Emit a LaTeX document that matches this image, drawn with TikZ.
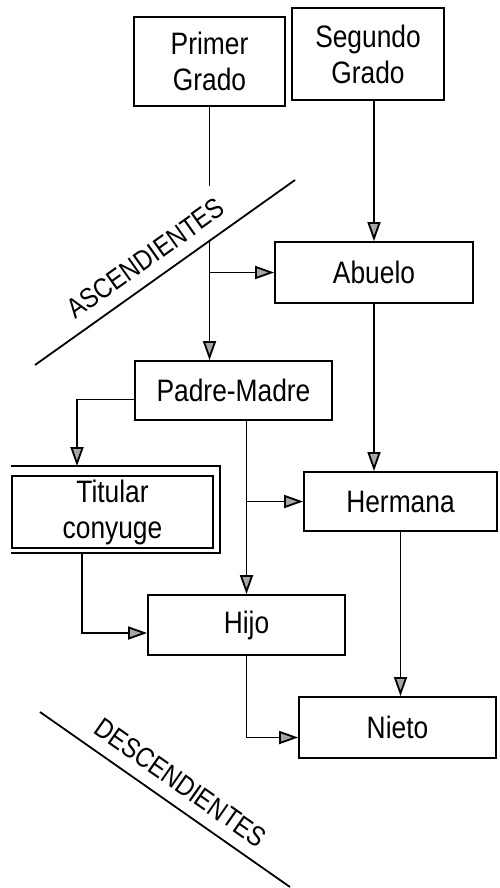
\documentclass[tikz,border=0pt]{standalone}
\usepackage{fontspec}
\setmainfont{Liberation Sans}[FakeStretch=0.85]
\usetikzlibrary{arrows.meta}
\begin{document}
\begin{tikzpicture}[x=1pt, y=-1pt, line width=1.8pt, >={Triangle[length=19pt,width=13pt,fill=gray!70]}]
            \tikzset{caja/.style = {shape=rectangle, draw, inner sep=0pt, align=center, font=\fontsize{31}{36}\selectfont}}
            \tikzset{grado/.style = {fill=white, inner sep=12pt, font=\fontsize{28}{30}\selectfont}}
            \useasboundingbox (0,0) rectangle (499,888);

            \node[caja, minimum width=151pt, minimum height=89pt] (primer) at (209.5,61.5) {Primer\\Grado};
            \node[caja, minimum width=152pt, minimum height=92pt] (segundo) at (368,54) {Segundo\\Grado};
            \node[caja, minimum width=198pt, minimum height=61pt] (abuelo) at (374,272.5) {Abuelo};
            \node[caja, minimum width=197pt, minimum height=59pt] (padre) at (233.5,390.5) {Padre-Madre};
            \node[caja, minimum width=201pt, minimum height=72pt] (titular) at (112.5,512) {Titular\\conyuge};
            \node[caja, minimum width=193pt, minimum height=59pt] (hermana) at (400.5,501.5) {Hermana};
            \node[caja, minimum width=197pt, minimum height=60pt] (hijo) at (246.5,625) {Hijo};
            \node[caja, minimum width=197pt, minimum height=61pt] (nieto) at (397.5,727.5) {Nieto};

            % doble marco del titular
            \draw ([yshift=9pt]titular.north west) -| ([xshift=6pt,yshift=-4pt]titular.south east)
                -- ([yshift=-4pt]titular.south west);
            \coordinate (titarriba) at ([xshift=-35.5pt,yshift=9pt]titular.north);
            \coordinate (titabajo) at ([xshift=-30.5pt,yshift=-4pt]titular.south);

            \draw[->] (primer) -- (primer |- padre.north);
            \draw[->] (abuelo.west -| primer) -- (abuelo.west);
            \draw[->] (abuelo.north |- segundo.south) -- (abuelo.north);
            \draw[->] (abuelo.south) -- (abuelo.south |- hermana.north);

            \draw[->] ([yshift=-9pt]padre.west) -| (titarriba);
            \draw[->] (hijo.north |- padre.south) -- (hijo.north);
            \draw[->] (hermana.west -| hijo.north) -- (hermana.west);
            \draw[->] (titabajo) |- ([yshift=-8pt]hijo.west);
            \draw[->] (hijo.south) |- ([yshift=-10pt]nieto.west);
            \draw[->] (hermana.south) -- (hermana.south |- nieto.north);

            % lineas de grado
            \coordinate (asc1) at (35,365);
            \coordinate (asc2) at (295,180);
            \path (asc1) -- node[pos=0.477, sloped, above, grado] (ascen) {ASCENDIENTES} (asc2);
            \draw (asc1) -- (asc2);

            \coordinate (desc1) at (40,712);
            \coordinate (desc2) at (290,887);
            \path (desc1) -- node[pos=0.51, sloped, above, grado] (descen) {DESCENDIENTES} (desc2);
            \draw (desc1) -- (desc2);
        \end{tikzpicture}
\end{document}
